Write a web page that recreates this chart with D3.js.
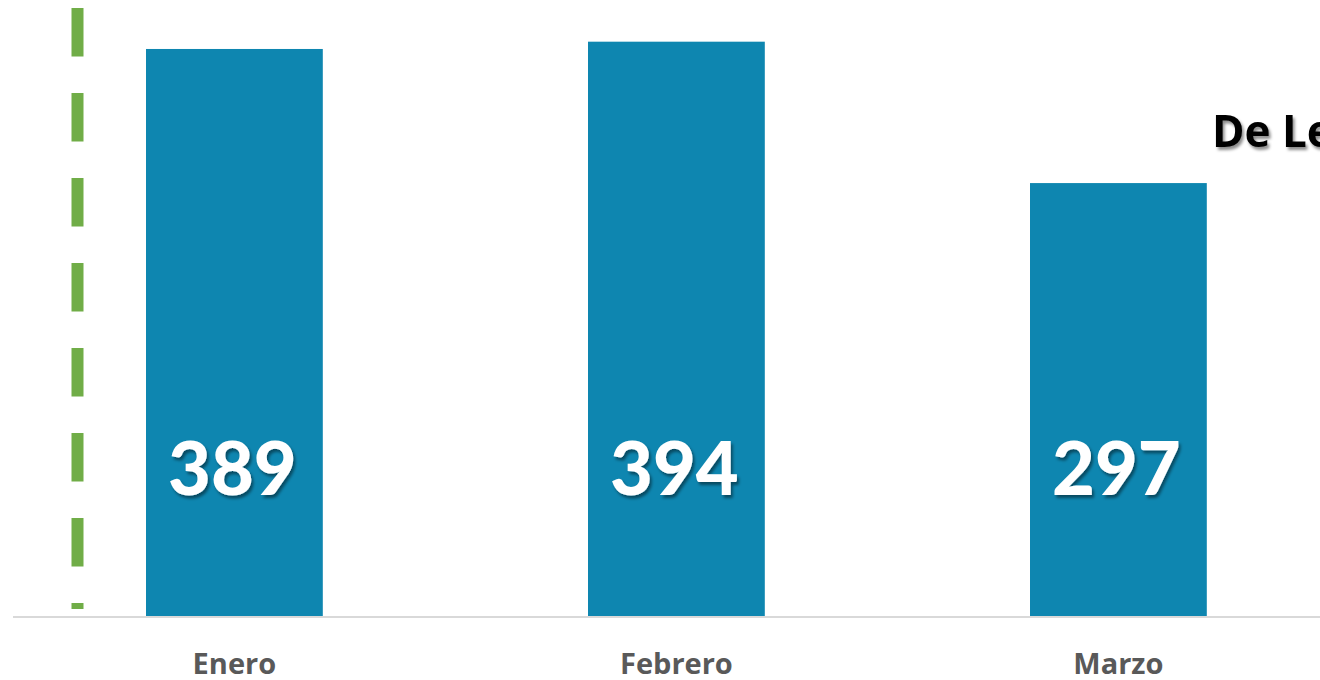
<!DOCTYPE html>
<html>
<head>
<meta charset="utf-8">
<script src="https://cdn.jsdelivr.net/npm/d3@7"></script>
<style>
  html, body { margin: 0; padding: 0; background: #fff; overflow: hidden; }
  svg { display: block; }
</style>
</head>
<body>
<svg id="chart" width="1320" height="680"></svg>
<script>
// Monthly totals
const months = ['Enero', 'Febrero', 'Marzo'];
const totals = [389, 394, 297];
const titleText = 'De Le';

const W = 1320, H = 680;
const baseY = 616;

const svg = d3.select('#chart');

const defs = svg.append('defs');
const shadow = defs.append('filter').attr('id', 'shadow')
  .attr('x', '-10%').attr('y', '-10%').attr('width', '130%').attr('height', '140%');
shadow.append('feDropShadow')
  .attr('dx', 2).attr('dy', 3).attr('stdDeviation', 1.6)
  .attr('flood-color', '#000').attr('flood-opacity', 0.45);

const x = d3.scaleBand()
  .domain(months)
  .range([13.4, 13.4 + 3 * 442])
  .paddingInner(0.6)
  .paddingOuter(0.3);

const y = d3.scaleLinear()
  .domain([0, 422.6])
  .range([baseY, 0]);

// green dashed marker line
svg.append('line')
  .attr('x1', 77.5).attr('x2', 77.5)
  .attr('y1', 8).attr('y2', 609)
  .attr('stroke', '#70ad47')
  .attr('stroke-width', 12)
  .attr('stroke-dasharray', '48.5 36.5');

// bars
svg.append('g').selectAll('rect')
  .data(totals)
  .join('rect')
  .attr('x', (d, i) => x(months[i]))
  .attr('y', d => y(d))
  .attr('width', x.bandwidth())
  .attr('height', d => baseY - y(d))
  .attr('fill', '#0e86b0');

// baseline
svg.append('line')
  .attr('x1', 13).attr('x2', W)
  .attr('y1', baseY + 1).attr('y2', baseY + 1)
  .attr('stroke', '#d9d9d9')
  .attr('stroke-width', 2);

// value labels inside bars
svg.append('g').selectAll('text')
  .data(totals)
  .join('text')
  .attr('x', (d, i) => x(months[i]) + x.bandwidth() / 2 - 2)
  .attr('y', 495)
  .attr('text-anchor', 'middle')
  .attr('font-family', 'Lato, sans-serif')
  .attr('font-weight', 900)
  .attr('font-size', 74)
  .attr('fill', '#fff')
  .attr('filter', 'url(#shadow)')
  .text(d => d);

// category axis
const xAxis = svg.append('g')
  .attr('transform', `translate(0,${baseY})`)
  .call(d3.axisBottom(x).tickSize(0).tickPadding(0));
xAxis.select('.domain').remove();
xAxis.selectAll('text')
  .attr('y', 58)
  .attr('dy', 0)
  .attr('font-family', 'Open Sans, sans-serif')
  .attr('font-weight', 700)
  .attr('font-size', 29)
  .attr('fill', '#595959');

// cropped title
svg.append('text')
  .attr('x', 1212)
  .attr('y', 147)
  .attr('font-family', 'Open Sans, sans-serif')
  .attr('font-weight', 700)
  .attr('font-size', 44)
  .attr('fill', '#000')
  .attr('filter', 'url(#shadow)')
  .text(titleText);
</script>
</body>
</html>
